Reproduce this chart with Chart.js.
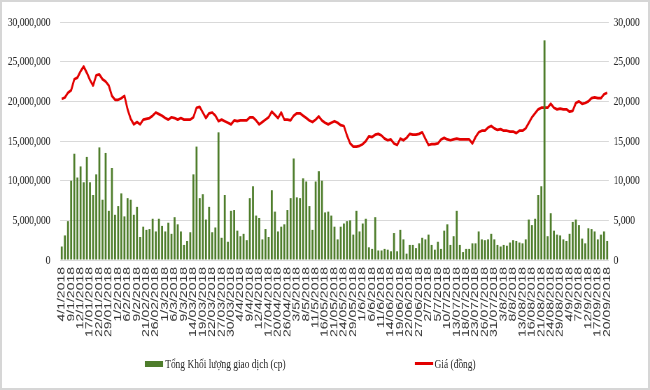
<!DOCTYPE html>
<html>
<head>
<meta charset="utf-8">
<script src="https://cdn.jsdelivr.net/npm/chart.js@4.4.1/dist/chart.umd.min.js"></script>
<style>
  html, body { margin: 0; padding: 0; background: #fff; }
  #wrap { position: relative; width: 650px; height: 390px; overflow: hidden; background: #fff; }
  /* the reference is squeezed sideways, so draw wide and scale down in x */
  #stage { position: absolute; left: 0; top: 0; width: 929px; height: 390px;
           transform: scaleX(0.6997); transform-origin: 0 0; }
  #frame { position: absolute; left: 0; top: 0; width: 650px; height: 390px;
           box-sizing: border-box; border: 2px solid #d6d6d6; pointer-events: none; }
  .lg { position: absolute; font-family: "Liberation Serif", serif; font-size: 13.5px;
        color: #262626; white-space: nowrap; line-height: 16px; }
  .sw { position: absolute; }
</style>
</head>
<body>
<div id="wrap">
  <div id="stage">
    <canvas id="volPriceChart" width="929" height="390"></canvas>
    <div class="sw" style="left:207px;top:361px;width:26px;height:6px;background:#4e7d2b"></div>
    <div class="lg" style="left:236px;top:356px">Tổng Khối lượng giao dịch (cp)</div>
    <div class="sw" style="left:593px;top:362px;width:26px;height:3px;background:#e20000"></div>
    <div class="lg" style="left:621px;top:356px">Giá (đồng)</div>
  </div>
  <div id="frame"></div>
</div>
<script>
// trading days per month, 2018
let daysJan = [4, 5, 8, 9, 10, 11, 12, 15, 16, 17, 18, 19, 22, 23, 26, 29, 30, 31];
let daysFeb = [1, 2, 5, 6, 7, 8, 9, 12, 13, 21, 22, 23, 26, 27, 28];
let daysMar = [1, 2, 5, 6, 7, 8, 9, 12, 13, 14, 15, 16, 19, 20, 21, 22, 23, 26, 27, 28, 29, 30];
let daysApr = [2, 3, 4, 5, 6, 9, 10, 11, 12, 13, 16, 17, 18, 19, 20, 23, 24, 26, 27];
let daysMay = [2, 3, 4, 7, 8, 9, 10, 11, 14, 15, 16, 17, 18, 21, 22, 23, 24, 25, 28, 29, 30, 31];
let daysJun = [1, 4, 5, 6, 7, 8, 11, 12, 13, 14, 15, 18, 19, 20, 21, 22, 25, 26, 27, 28, 29];
let daysJul = [2, 3, 4, 5, 6, 9, 10, 11, 12, 13, 16, 17, 18, 19, 20, 23, 24, 25, 26, 27, 30, 31];
let daysAug = [1, 2, 3, 6, 7, 8, 9, 10, 13, 14, 15, 16, 17, 20, 21, 22, 23, 24, 27, 28, 29, 30, 31];
let daysSep = [4, 5, 6, 7, 10, 11, 12, 13, 14, 17, 18, 19, 20];

// Tổng khối lượng giao dịch (cp)
let volume = [
    1700000, 3100000, 4900000, 10000000, 13400000, 10400000, 11800000, 9800000, 13000000, 9800000,
    8200000, 10800000, 14200000, 7600000, 13500000, 6200000, 11600000, 5700000, 6800000,
    8400000, 5500000, 7800000, 7600000, 5700000, 6700000, 2900000, 4200000, 3800000, 3900000,
    5200000, 3600000, 5200000, 4300000, 3600000, 4700000, 3300000, 5400000, 4500000, 3600000,
    1900000, 2400000, 3500000, 10800000, 14300000, 7800000, 8300000, 5100000, 6700000, 3500000,
    4100000, 16100000, 2800000, 8200000, 2300000, 6200000, 6300000, 3700000, 3000000, 3300000,
    2500000, 7800000, 9300000, 5600000, 5300000, 2600000, 3900000, 2900000, 8800000, 6100000,
    3600000, 4200000, 4500000, 6300000, 7800000, 12800000, 7900000, 7800000, 10300000, 9900000,
    6800000, 3800000, 9900000, 11200000, 10000000, 6000000, 6100000, 5600000, 4200000, 2600000,
    4200000, 4600000, 4900000, 5000000, 3200000, 6200000, 3600000, 4600000, 5200000, 1600000,
    1400000, 5400000, 1200000, 1200000, 1400000, 1300000, 1100000, 3400000, 1100000,
    3800000, 2600000, 800000, 1900000, 1900000, 1500000, 2100000, 2800000, 2600000, 3200000,
    1900000, 1300000, 2300000, 1400000, 3700000, 4500000, 1900000, 3000000, 6200000, 1900000,
    1000000, 1400000, 1400000, 2100000, 2100000, 3600000, 2600000, 2500000, 2600000, 3300000,
    2600000, 1900000, 1700000, 1900000, 1800000, 2200000, 2500000, 2400000, 2200000, 2100000,
    2600000, 5100000, 4400000, 5200000, 8200000, 9300000, 27700000, 3000000, 5900000, 3700000,
    3200000, 3100000, 2600000, 2400000, 3300000, 4800000, 5100000, 4400000, 2700000, 2100000,
    4000000, 3900000, 3600000, 2600000, 3200000, 3600000, 2400000
];

// Giá (đồng)
let price = [
    20300, 20500, 21100, 21400, 22800, 23000, 23800, 24400, 23600, 22700,
    22000, 23300, 23400, 22800, 22500, 22000, 20700, 20200, 20200,
    20400, 20700, 19000, 17800, 17100, 17400, 17100, 17700, 17800, 17900,
    18200, 18600, 18400, 18200, 17900, 17700, 18000, 17900, 17700, 17900,
    17700, 17700, 17700, 18000, 19200, 19300, 18600, 17900, 18500, 18600,
    18200, 17500, 17700, 17500, 17300, 17100, 17600, 17500, 17600, 17600,
    17600, 18000, 18000, 17600, 17100, 17400, 17700, 18000, 18700, 18300,
    17900, 18600, 17700, 17700, 17600, 18200, 18500, 18500, 18200, 17900,
    17600, 17400, 17700, 18100, 17600, 17300, 17100, 17300, 17500, 17300,
    17000, 16900, 15700, 14700, 14300, 14300, 14400, 14600, 15000, 15600,
    15500, 15800, 15900, 15700, 15300, 15100, 15200, 14700, 14500,
    15300, 15100, 15400, 15900, 15800, 15800, 15900, 16100, 15300, 14500,
    14600, 14600, 14700, 15200, 15400, 15200, 15100, 15200, 15300, 15200,
    15200, 15200, 15200, 14700, 15500, 16100, 16300, 16300, 16700, 16900,
    16600, 16400, 16500, 16300, 16300, 16200, 16200, 16000, 16300, 16300,
    16600, 17300, 18000, 18500, 19000, 19200, 19200, 19200, 19700, 19200,
    19000, 19100, 19000, 19000, 18700, 18800, 19800, 20000, 19700, 19800,
    20000, 20400, 20500, 20400, 20400, 20900, 21100
];

let labelEvery = 3; // a date label on every 3rd session

// label text like the source sheet: 4/1/2018 but 17/01/2018
let months = [daysJan, daysFeb, daysMar, daysApr, daysMay, daysJun, daysJul, daysAug, daysSep];
let dates = [];
months.forEach(function (days, m) {
    days.forEach(function (d) {
        let mm = m + 1;
        if (d <= 12) dates.push(d + "/" + mm + "/2018");
        else dates.push(d + "/" + (mm < 10 ? "0" + mm : mm) + "/2018");
    });
});

let serif = { family: "'Liberation Serif', 'Times New Roman', serif", size: 13.5 };

let ctx = document.getElementById("volPriceChart").getContext("2d");
let volPriceChart = new Chart(ctx, {
    type: "bar",
    data: {
        labels: dates,
        datasets: [
            {
                label: "Tổng Khối lượng giao dịch (cp)",
                data: volume,
                backgroundColor: "#4e7d2b",
                barPercentage: 0.62,
                categoryPercentage: 1,
                yAxisID: "y",
            },
            {
                type: "line",
                label: "Giá (đồng)",
                data: price,
                borderColor: "#e20000",
                borderWidth: 2.75,
                pointRadius: 0,
                tension: 0,
                borderJoinStyle: "round",
                yAxisID: "y1",
            },
        ],
    },
    options: {
        responsive: false,
        animation: false,
        devicePixelRatio: 1,
        layout: { padding: { top: 18, bottom: 50, left: 0, right: 0 } },
        plugins: { legend: { display: false }, tooltip: { enabled: false } },
        scales: {
            x: {
                grid: { display: false, drawTicks: false },
                border: { display: false },
                ticks: {
                    autoSkip: false,
                    minRotation: 90,
                    maxRotation: 90,
                    padding: 7,
                    color: "#333",
                    font: { family: "'Liberation Sans', Arial, sans-serif", size: 14 },
                    callback: function (v, i) {
                        return i % labelEvery === 0 ? dates[i] : "";
                    },
                },
                afterFit: function (s) { s.height = 80; },
            },
            y: {
                position: "left",
                min: 0,
                max: 30000000,
                grid: { color: "#d9d9d9", drawTicks: false },
                border: { display: false },
                ticks: {
                    stepSize: 5000000,
                    padding: 14,
                    color: "#262626",
                    font: serif,
                    callback: function (v) { return v.toLocaleString("en-US"); },
                },
                afterFit: function (s) { s.width = 86; },
            },
            y1: {
                position: "right",
                min: 0,
                max: 30000,
                grid: { drawOnChartArea: false, drawTicks: false },
                border: { display: false },
                ticks: {
                    stepSize: 5000,
                    padding: 7,
                    color: "#262626",
                    font: serif,
                    callback: function (v) { return v.toLocaleString("en-US"); },
                },
                afterFit: function (s) { s.width = 59; },
            },
        },
    },
});
</script>
</body>
</html>
